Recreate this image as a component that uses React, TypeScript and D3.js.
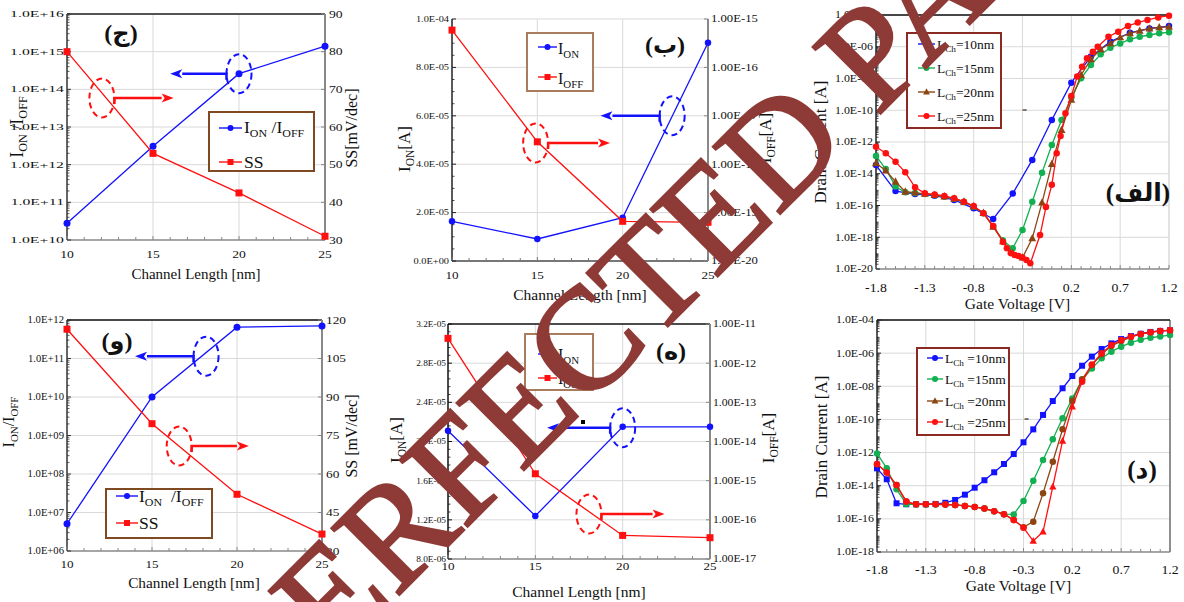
import React from 'react';
import * as d3 from 'd3';

const FONT = '"Liberation Serif", "Times New Roman", Times, serif';
const AR_FONT = '"Liberation Serif", "DejaVu Sans", serif';

const BLUE = '#1212FF';
const RED = '#FF1010';
const GREEN = '#12B050';
const BROWN = '#8B4513';
const GRID = '#D9D9D9';
const WM = '#8E3A36';

// ---------------- data ----------------
const channelLength = [10, 15, 20, 25];
const lengthTicks = [10, 15, 20, 25];
const lengthMinor = [11, 12, 13, 14, 16, 17, 18, 19, 21, 22, 23, 24];

// panel (ج)
const ratioJ = [2.8e10, 3.1e12, 2.6e14, 1.4e15];
const ssJ = [80, 53, 42.5, 31];
const ratioTicksJ = [1e10, 1e11, 1e12, 1e13, 1e14, 1e15, 1e16];
const ssTicksJ = [30, 40, 50, 60, 70, 80, 90];

// panel (ب)
const ionB = [1.64e-5, 0.91e-5, 1.79e-5, 9.02e-5];
const ioffB = [5.9e-16, 2.9e-18, 6.6e-20, 6.3e-20];
const ionTicksB = [0, 2e-5, 4e-5, 6e-5, 8e-5, 1e-4];
const ionMinorB = [5e-6, 1e-5, 1.5e-5, 2.5e-5, 3e-5, 3.5e-5, 4.5e-5, 5e-5, 5.5e-5, 6.5e-5, 7e-5, 7.5e-5, 8.5e-5, 9e-5, 9.5e-5];
const ioffTicksB = [1e-20, 1e-19, 1e-18, 1e-17, 1e-16, 1e-15];

// panel (و)
const ratioV = [5.1e6, 1.0e10, 6.5e11, 7.0e11];
const ssV = [116.4, 79.6, 52.1, 36.6];
const ratioTicksV = [1e6, 1e7, 1e8, 1e9, 1e10, 1e11, 1e12];
const ssTicksV = [30, 45, 60, 75, 90, 105, 120];

// panel (ه)
const ionH = [2.11e-5, 1.24e-5, 2.15e-5, 2.15e-5];
const ioffH = [4.3e-12, 1.5e-15, 4.0e-17, 3.5e-17];
const ionTicksH = [8e-6, 1.2e-5, 1.6e-5, 2.0e-5, 2.4e-5, 2.8e-5, 3.2e-5];
const ioffTicksH = [1e-17, 1e-16, 1e-15, 1e-14, 1e-13, 1e-12, 1e-11];

// transfer curves: gate voltage [V] and log10 of drain current [A]
const vgTicks = [-1.8, -1.3, -0.8, -0.3, 0.2, 0.7, 1.2];
const vgStep01 = [-1.8, -1.7, -1.6, -1.5, -1.4, -1.3, -1.2, -1.1, -1.0, -0.9, -0.8, -0.7, -0.6, -0.5, -0.4, -0.3, -0.2, -0.1, 0, 0.1, 0.2, 0.3, 0.4, 0.5, 0.6, 0.7, 0.8, 0.9, 1.0, 1.1, 1.2];
const vgStep02 = [-1.8, -1.6, -1.4, -1.2, -1.0, -0.8, -0.6, -0.4, -0.2, 0, 0.2, 0.4, 0.6, 0.8, 1.0, 1.2];
const vgRedAlef = [-1.8, -1.7, -1.6, -1.5, -1.4, -1.3, -1.2, -1.1, -1.0, -0.9, -0.8, -0.7, -0.6, -0.5, -0.46, -0.42, -0.38, -0.34, -0.3, -0.26, -0.22, -0.12, -0.06, 0, 0.05, 0.09, 0.14, 0.2, 0.26, 0.31, 0.36, 0.42, 0.47, 0.58, 0.68, 0.78, 0.88, 0.98, 1.09, 1.2];

// panel (الف)
const logIdAlef10 = [-13.45, -15.09, -15.28, -15.38, -15.65, -16.18, -16.85, -15.25, -13.13, -10.61, -8.26, -6.62, -5.68, -5.12, -4.85, -4.7];
const logIdAlef15 = [-12.88, -13.7, -14.81, -15.17, -15.22, -15.28, -15.35, -15.45, -15.58, -15.78, -16.08, -16.49, -17.3, -18.2, -18.7, -17.54, -15.76, -13.93, -12.19, -10.61, -9.19, -7.99, -7.15, -6.48, -6.06, -5.79, -5.53, -5.37, -5.26, -5.15, -5.09];
const logIdAlef20 = [-13.34, -13.8, -14.5, -15.13, -15.19, -15.27, -15.34, -15.43, -15.56, -15.76, -16.06, -16.47, -17.35, -18.25, -19.0, -19.28, -18.07, -15.82, -13.39, -11.24, -9.35, -7.78, -6.79, -6.16, -5.78, -5.4, -5.15, -4.99, -4.86, -4.78, -4.74];
const logIdAlef25 = [-12.3, -12.71, -13.24, -13.91, -14.85, -15.23, -15.3, -15.4, -15.55, -15.76, -16.03, -16.49, -17.29, -18.3, -18.7, -19.0, -19.12, -19.18, -19.27, -19.43, -19.64, -17.86, -16.1, -14.7, -12.71, -11.62, -10.19, -9.1, -7.88, -7.26, -6.73, -6.31, -6.0, -5.37, -5.05, -4.69, -4.48, -4.31, -4.15, -4.04];
const idTicksAlef = [1e-20, 1e-18, 1e-16, 1e-14, 1e-12, 1e-10, 1e-8, 1e-6, 1e-4];

// panel (د)
const logIdDal10 = [-12.95, -13.61, -15.06, -15.12, -15.12, -15.12, -15.1, -15.03, -14.86, -14.54, -14.12, -13.67, -13.19, -12.69, -12.09, -11.38, -10.6, -9.73, -8.89, -8.12, -7.38, -6.76, -6.21, -5.75, -5.41, -5.15, -4.97, -4.83, -4.72, -4.66, -4.62];
const logIdDal15 = [-12.05, -12.95, -14.22, -15.1, -15.14, -15.13, -15.13, -15.14, -15.16, -15.22, -15.28, -15.38, -15.54, -15.72, -15.73, -14.92, -13.7, -12.45, -11.2, -9.93, -8.73, -7.62, -6.92, -6.31, -5.91, -5.61, -5.37, -5.19, -5.07, -4.99, -4.91];
const logIdDal20 = [-12.7, -13.2, -13.96, -14.96, -15.12, -15.12, -15.12, -15.14, -15.16, -15.22, -15.28, -15.38, -15.54, -15.72, -16.07, -16.51, -16.17, -14.46, -12.55, -10.6, -8.89, -7.58, -6.72, -6.07, -5.57, -5.27, -5.03, -4.84, -4.74, -4.66, -4.62];
const logIdDal25 = [-12.69, -13.21, -13.96, -14.96, -15.12, -15.12, -15.12, -15.14, -15.16, -15.22, -15.28, -15.38, -15.54, -15.72, -16.07, -16.53, -17.34, -16.78, -14.06, -11.3, -9.23, -7.72, -6.68, -6.01, -5.51, -5.21, -5.0, -4.84, -4.74, -4.66, -4.62];
const dal25TriangleVolts = [-0.2, -0.1, 0, 0.1, 0.2];
const idTicksDal = [1e-18, 1e-16, 1e-14, 1e-12, 1e-10, 1e-8, 1e-6, 1e-4];

const lchLabels = ['10nm', '15nm', '20nm', '25nm'];

// ---------------- helpers ----------------
function sci(v: number, d: number) {
  if (v === 0) return (0).toFixed(d) + 'E+00';
  const e = Math.floor(Math.log10(Math.abs(v)) + 1e-9);
  const m = v / Math.pow(10, e);
  return m.toFixed(d) + 'E' + (e < 0 ? '-' : '+') + String(Math.abs(e)).padStart(2, '0');
}

function logMinor(lo: number, hi: number) {
  const out: number[] = [];
  for (let e = lo; e < hi; e++) for (let k = 2; k <= 9; k++) out.push(k * Math.pow(10, e));
  return out;
}

type Part = [string, boolean];
function Rich({ parts, size }: { parts: Part[]; size: number }) {
  const shift = size * 0.24;
  let cur = 0;
  return (
    <>
      {parts.map(([t, isSub], i) => {
        const target = isSub ? shift : 0;
        const dy = target - cur;
        cur = target;
        return (
          <tspan key={i} dy={dy} fontSize={isSub ? size * 0.68 : size}>
            {t}
          </tspan>
        );
      })}
    </>
  );
}

function Txt(p: any) {
  const { x, y, size, anchor = 'start', sx = 1, rotate = 0, weight = 'normal', fill = '#111', family = FONT, baseline, children } = p;
  return (
    <text
      transform={`translate(${x},${y}) rotate(${rotate}) scale(${sx},1)`}
      fontSize={size}
      textAnchor={anchor}
      fontFamily={family}
      fontWeight={weight}
      fill={fill}
      dominantBaseline={baseline}
      style={{ whiteSpace: 'pre' }}
    >
      {children}
    </text>
  );
}

function Marker({ type, x, y, color, size }: any) {
  if (type === 'circle') return <circle cx={x} cy={y} r={size / 2} fill={color} />;
  if (type === 'square') return <rect x={x - size / 2} y={y - size / 2} width={size} height={size} fill={color} />;
  const h = size;
  return <path d={`M${x},${y - h * 0.62}L${x + h * 0.56},${y + h * 0.42}L${x - h * 0.56},${y + h * 0.42}Z`} fill={color} />;
}

type Geo = { x0: number; x1: number; y0: number; y1: number };
type AxisSpec = { scale: any; ticks: number[]; fmt: (v: number) => string; size: number; sx: number; labelX: number; minor?: number[] };

function Axes(p: any) {
  const { g, x, xTicks, xFmt, xMinor, xLabelY, xSize, xSx, left, right, vGrid, hGrid, borders } = p as {
    g: Geo; x: any; xTicks: number[]; xFmt: (v: number) => string; xMinor: number[]; xLabelY: number; xSize: number; xSx: number;
    left: AxisSpec; right?: AxisSpec; vGrid: number[]; hGrid: number[]; borders: any;
  };
  const els: any[] = [];
  let k = 0;
  vGrid.forEach((v) => els.push(<line key={k++} x1={x(v)} x2={x(v)} y1={g.y0} y2={g.y1} stroke={GRID} strokeWidth={1} />));
  hGrid.forEach((v) => els.push(<line key={k++} x1={g.x0} x2={g.x1} y1={left.scale(v)} y2={left.scale(v)} stroke={GRID} strokeWidth={1} />));
  if (borders.top) els.push(<line key={k++} x1={g.x0} x2={g.x1} y1={g.y0} y2={g.y0} stroke={borders.top[0]} strokeWidth={borders.top[1]} />);
  if (borders.right) els.push(<line key={k++} x1={g.x1} x2={g.x1} y1={g.y0} y2={g.y1} stroke={borders.right[0]} strokeWidth={borders.right[1]} />);
  els.push(<line key={k++} x1={g.x0} x2={g.x1} y1={g.y1} y2={g.y1} stroke={borders.bottom[0]} strokeWidth={borders.bottom[1]} />);
  els.push(<line key={k++} x1={g.x0} x2={g.x0} y1={g.y0} y2={g.y1} stroke={borders.left[0]} strokeWidth={borders.left[1]} />);
  xTicks.forEach((v) => {
    els.push(<line key={k++} x1={x(v)} x2={x(v)} y1={g.y1} y2={g.y1 - 4} stroke={borders.bottom[0]} strokeWidth={1} />);
    els.push(
      <Txt key={k++} x={x(v)} y={xLabelY} size={xSize} sx={xSx} anchor="middle">
        {xFmt(v)}
      </Txt>
    );
  });
  xMinor.forEach((v) => els.push(<line key={k++} x1={x(v)} x2={x(v)} y1={g.y1} y2={g.y1 - 3} stroke={borders.bottom[0]} strokeWidth={1} />));
  left.ticks.forEach((v) => {
    const y = left.scale(v);
    els.push(<line key={k++} x1={g.x0} x2={g.x0 + 4} y1={y} y2={y} stroke={borders.left[0]} strokeWidth={1} />);
    els.push(
      <Txt key={k++} x={left.labelX} y={y + left.size * 0.34} size={left.size} sx={left.sx} anchor="end">
        {left.fmt(v)}
      </Txt>
    );
  });
  (left.minor || []).forEach((v) => {
    const y = left.scale(v);
    els.push(<line key={k++} x1={g.x0} x2={g.x0 + 2.5} y1={y} y2={y} stroke={borders.left[0]} strokeWidth={0.8} />);
  });
  if (right) {
    right.ticks.forEach((v) => {
      const y = right.scale(v);
      els.push(<line key={k++} x1={g.x1} x2={g.x1 - 4} y1={y} y2={y} stroke={borders.right[0]} strokeWidth={1} />);
      els.push(
        <Txt key={k++} x={right.labelX} y={y + right.size * 0.34} size={right.size} sx={right.sx} anchor="start">
          {right.fmt(v)}
        </Txt>
      );
    });
    (right.minor || []).forEach((v) => {
      const y = right.scale(v);
      els.push(<line key={k++} x1={g.x1} x2={g.x1 - 2.5} y1={y} y2={y} stroke={borders.right[0]} strokeWidth={0.8} />);
    });
  }
  return <g>{els}</g>;
}

function Series({ xs, ys, x, y, color, marker, size, width = 1.3, markerOf }: any) {
  const pts: [number, number][] = xs.map((v: number, i: number) => [x(v), y(ys[i])]);
  const line = d3.line();
  return (
    <g>
      <path d={line(pts) || ''} fill="none" stroke={color} strokeWidth={width} />
      {pts.map((pt, i) => (
        <Marker key={i} type={markerOf ? markerOf(xs[i]) : marker} x={pt[0]} y={pt[1]} color={color} size={size} />
      ))}
    </g>
  );
}

function Legend({ box, border, entries, lineX0, lineX1, textX, size, sx }: any) {
  return (
    <g>
      <rect x={box[0]} y={box[1]} width={box[2] - box[0]} height={box[3] - box[1]} fill="#fff" stroke={border} strokeWidth={2} />
      {entries.map((e: any, i: number) => (
        <g key={i}>
          <line x1={lineX0} x2={lineX1} y1={e.y} y2={e.y} stroke={e.color} strokeWidth={1.4} />
          <Marker type={e.marker} x={(lineX0 + lineX1) / 2} y={e.y} color={e.color} size={e.msize || 6} />
          <Txt x={textX} y={e.y + (e.dy ?? size * 0.35)} size={size} sx={sx}>
            <Rich parts={e.parts} size={size} />
          </Txt>
        </g>
      ))}
    </g>
  );
}

function Annot({ cx, cy, toX, color }: any) {
  const rx = 12.5, ry = 19.5;
  const dir = toX < cx ? -1 : 1;
  const sx = cx + dir * rx;
  const tip = toX;
  const back = tip - dir * 12;
  return (
    <g>
      <ellipse cx={cx} cy={cy} rx={rx} ry={ry} fill="none" stroke={color} strokeWidth={2} strokeDasharray="6,4" />
      <path d={`M${sx},${cy + 6}L${sx},${cy}L${back},${cy}`} fill="none" stroke={color} strokeWidth={2.5} />
      <path d={`M${tip},${cy}L${back},${cy - 4.5}L${back + dir * 3},${cy}L${back},${cy + 4.5}Z`} fill={color} />
    </g>
  );
}

function ArabicLabel({ x, y, text, size = 24 }: any) {
  return (
    <text x={x} y={y} fontSize={size} fontFamily={AR_FONT} fontWeight="bold" textAnchor="middle" dominantBaseline="central" fill="#111">
      {text}
    </text>
  );
}

// ---------------- panels ----------------
function PanelJim() {
  const g = { x0: 67, x1: 325, y0: 14, y1: 240 };
  const x = d3.scaleLinear().domain([10, 25]).range([g.x0, g.x1]);
  const yL = d3.scaleLog().domain([1e10, 1e16]).range([g.y1, g.y0]);
  const yR = d3.scaleLinear().domain([30, 90]).range([g.y1, g.y0]);
  return (
    <g>
      <Axes
        g={g} x={x} xTicks={lengthTicks} xFmt={(v: number) => String(v)} xMinor={lengthMinor} xLabelY={258} xSize={10.5} xSx={1.3}
        left={{ scale: yL, ticks: ratioTicksJ, fmt: (v: number) => sci(v, 1), size: 9, sx: 1.75, labelX: 64, minor: logMinor(10, 16) }}
        right={{ scale: yR, ticks: ssTicksJ, fmt: (v: number) => String(v), size: 10.5, sx: 1.3, labelX: 329 }}
        vGrid={[15, 20]} hGrid={ratioTicksJ.slice(1)}
        borders={{ left: ['#333', 1.5], bottom: ['#888', 1.5], right: ['#888', 2], top: ['#222', 1.5] }}
      />
      <Series xs={channelLength} ys={ratioJ} x={x} y={yL} color={BLUE} marker="circle" size={7} />
      <Series xs={channelLength} ys={ssJ} x={x} y={yR} color={RED} marker="square" size={7} />
      <Annot cx={x(20)} cy={yL(2.6e14)} toX={x(16)} color={BLUE} />
      <Annot cx={x(12.03)} cy={yR(67.7)} toX={x(16.2)} color={RED} />
      <Legend box={[209, 112, 314, 171]} border="#7F4A22" lineX0={219} lineX1={242} textX={244} size={16} sx={1.1}
        entries={[
          { y: 128, color: BLUE, marker: 'circle', parts: [['I', false], ['ON', true], [' /I', false], ['OFF', true]], dy: 5 },
          { y: 162, color: RED, marker: 'square', parts: [['SS', false]], dy: 6 },
        ]} />
      <ArabicLabel x={121} y={33} text="(ج)" size={24} />
      <Txt x={196} y={279} size={15} anchor="middle">Channel Length [nm]</Txt>
      <Txt x={23} y={127} size={18} anchor="middle" rotate={-90}>
        <Rich parts={[['I', false], ['ON', true], [' /I', false], ['OFF', true]]} size={18} />
      </Txt>
      <Txt x={357} y={128} size={16} anchor="middle" rotate={-90}>SS[mV/dec]</Txt>
    </g>
  );
}

function PanelBa() {
  const g = { x0: 452, x1: 708, y0: 19, y1: 261 };
  const x = d3.scaleLinear().domain([10, 25]).range([g.x0, g.x1]);
  const yL = d3.scaleLinear().domain([0, 1e-4]).range([g.y1, g.y0]);
  const yR = d3.scaleLog().domain([1e-20, 1e-15]).range([g.y1, g.y0]);
  return (
    <g>
      <Axes
        g={g} x={x} xTicks={lengthTicks} xFmt={(v: number) => String(v)} xMinor={lengthMinor} xLabelY={279} xSize={10.5} xSx={1.25}
        left={{ scale: yL, ticks: ionTicksB, fmt: (v: number) => sci(v, 1), size: 8.5, sx: 1.22, labelX: 449, minor: ionMinorB }}
        right={{ scale: yR, ticks: ioffTicksB, fmt: (v: number) => sci(v, 2), size: 10, sx: 1.27, labelX: 711 }}
        vGrid={[15, 20]} hGrid={ionTicksB.slice(1)}
        borders={{ left: ['#222', 1.5], bottom: ['#777', 2], right: ['#888', 2], top: null }}
      />
      <Series xs={channelLength} ys={ionB} x={x} y={yL} color={BLUE} marker="circle" size={6.5} />
      <Series xs={channelLength} ys={ioffB} x={x} y={yR} color={RED} marker="square" size={7} />
      <Annot cx={x(22.9)} cy={yL(6.0e-5)} toX={x(18.7)} color={BLUE} />
      <Annot cx={x(14.9)} cy={yR(2.75e-18)} toX={x(19.26)} color={RED} />
      <Legend box={[527, 33, 593, 91]} border="#A87C5C" lineX0={538} lineX1={557} textX={558} size={16} sx={1}
        entries={[
          { y: 47, color: BLUE, marker: 'circle', parts: [['I', false], ['ON', true]], dy: 7 },
          { y: 77, color: RED, marker: 'square', parts: [['I', false], ['OFF', true]], dy: 7 },
        ]} />
      <ArabicLabel x={665} y={45} text="(ب)" size={24} />
      <Txt x={580} y={300} size={15.5} anchor="middle">Channel Length [nm]</Txt>
      <Txt x={410} y={149} size={17} anchor="middle" rotate={-90}>
        <Rich parts={[['I', false], ['ON', true], ['[A]', false]]} size={17} />
      </Txt>
      <Txt x={771} y={138} size={17} anchor="middle" rotate={-90}>
        <Rich parts={[['I', false], ['OFF', true], ['[A]', false]]} size={17} />
      </Txt>
    </g>
  );
}

function TransferPanel({ g, domainLo, ticks, label, labelPos, legendBox, legendYs, legendTextX, legendLineX, series, spaceLabel, eqPos, xTitleY, xTickY, yTitleX, yTitleY, rightBorder }: any) {
  const x = d3.scaleLinear().domain([-1.8, 1.2]).range([g.x0, g.x1]);
  const y = d3.scaleLog().domain([domainLo, 1e-4]).range([g.y1, g.y0]);
  const loE = Math.round(Math.log10(domainLo));
  const minorX: number[] = vgStep01.filter((v) => !vgTicks.some((t) => Math.abs(t - v) < 1e-9));
  const colors = [BLUE, GREEN, BROWN, RED];
  return (
    <g>
      <Axes
        g={g} x={x} xTicks={vgTicks} xFmt={(v: number) => v.toFixed(1)} xMinor={minorX} xLabelY={xTickY} xSize={12} xSx={1.15}
        left={{ scale: y, ticks: ticks, fmt: (v: number) => sci(v, 1), size: 10, sx: 1.19, labelX: g.x0 - 3, minor: logMinor(loE, -4) }}
        vGrid={vgTicks.slice(1)} hGrid={ticks.slice(1)}
        borders={{ left: ['#222', 1.5], bottom: ['#888', 1.5], right: rightBorder, top: ['#111', 1.5] }}
      />
      {series.map((s: any, i: number) => (
        <Series key={i} xs={s.xs} ys={s.logs.map((e: number) => Math.pow(10, e))} x={x} y={y} color={s.color} marker={s.marker} markerOf={s.markerOf} size={s.size || 6} width={1.3} />
      ))}
      <Legend box={legendBox} border="#8B2A22" lineX0={legendLineX[0]} lineX1={legendLineX[1]} textX={legendTextX} size={13.5} sx={1}
        entries={lchLabels.map((l, i) => ({
          y: legendYs[i], color: colors[i], marker: i === 2 ? 'triangle' : 'circle', msize: 6,
          parts: [['L', false], ['Ch', true], [(spaceLabel ? ' =' : '=') + l, false]], dy: 5,
        }))} />
      <Txt x={eqPos[0]} y={eqPos[1]} size={9}>=</Txt>
      <ArabicLabel x={labelPos[0]} y={labelPos[1]} text={label} size={25} />
      <Txt x={(g.x0 + g.x1) / 2 - 5} y={xTitleY} size={15.5} anchor="middle">Gate Voltage [V]</Txt>
      <Txt x={yTitleX} y={yTitleY} size={17} anchor="middle" rotate={-90}>Drain Current [A]</Txt>
    </g>
  );
}

function PanelVav() {
  const g = { x0: 67, x1: 322, y0: 320, y1: 551 };
  const x = d3.scaleLinear().domain([10, 25]).range([g.x0, g.x1]);
  const yL = d3.scaleLog().domain([1e6, 1e12]).range([g.y1, g.y0]);
  const yR = d3.scaleLinear().domain([30, 120]).range([g.y1, g.y0]);
  return (
    <g>
      <Axes
        g={g} x={x} xTicks={lengthTicks} xFmt={(v: number) => String(v)} xMinor={lengthMinor} xLabelY={568} xSize={10.5} xSx={1.25}
        left={{ scale: yL, ticks: ratioTicksV, fmt: (v: number) => sci(v, 1), size: 9.5, sx: 1.12, labelX: 64, minor: logMinor(6, 12) }}
        right={{ scale: yR, ticks: ssTicksV, fmt: (v: number) => String(v), size: 10.5, sx: 1.27, labelX: 326 }}
        vGrid={[15, 20]} hGrid={ratioTicksV.slice(1)}
        borders={{ left: ['#333', 1.5], bottom: ['#888', 1.5], right: ['#888', 2], top: ['#111', 1.5] }}
      />
      <Series xs={channelLength} ys={ratioV} x={x} y={yL} color={BLUE} marker="circle" size={7} />
      <Series xs={channelLength} ys={ssV} x={x} y={yR} color={RED} marker="square" size={7} />
      <Annot cx={x(18.18)} cy={yL(1.15e11)} toX={x(14.0)} color={BLUE} />
      <Annot cx={x(16.6)} cy={yR(70.9)} toX={x(20.7)} color={RED} />
      <Legend box={[106, 489, 212, 538]} border="#7F4A22" lineX0={116} lineX1={138} textX={139} size={16} sx={1.1}
        entries={[
          { y: 496, color: BLUE, marker: 'circle', parts: [['I', false], ['ON', true], ['  /I', false], ['OFF', true]], dy: 6 },
          { y: 523, color: RED, marker: 'square', parts: [['SS', false]], dy: 6 },
        ]} />
      <ArabicLabel x={117} y={341} text="(و)" size={24} />
      <Txt x={194} y={588} size={15.3} anchor="middle">Channel Length [nm]</Txt>
      <Txt x={14} y={422} size={16} anchor="middle" rotate={-90}>
        <Rich parts={[['I', false], ['ON', true], ['/I', false], ['OFF', true]]} size={16} />
      </Txt>
      <Txt x={357} y={436} size={16} anchor="middle" rotate={-90}>SS [mV/dec]</Txt>
    </g>
  );
}

function PanelHe() {
  const g = { x0: 448, x1: 710, y0: 324, y1: 559 };
  const x = d3.scaleLinear().domain([10, 25]).range([g.x0, g.x1]);
  const yL = d3.scaleLinear().domain([8e-6, 3.2e-5]).range([g.y1, g.y0]);
  const yR = d3.scaleLog().domain([1e-17, 1e-11]).range([g.y1, g.y0]);
  const minorL: number[] = [];
  ionTicksH.slice(0, -1).forEach((t) => { for (let i = 1; i < 5; i++) minorL.push(t + i * 8e-7); });
  return (
    <g>
      <Axes
        g={g} x={x} xTicks={lengthTicks} xFmt={(v: number) => String(v)} xMinor={lengthMinor} xLabelY={570} xSize={10.5} xSx={1.25}
        left={{ scale: yL, ticks: ionTicksH, fmt: (v: number) => sci(v, 1), size: 8.5, sx: 1.1, labelX: 446, minor: minorL }}
        right={{ scale: yR, ticks: ioffTicksH, fmt: (v: number) => sci(v, 2), size: 10, sx: 1.17, labelX: 713 }}
        vGrid={[15, 20]} hGrid={ionTicksH.slice(1, -1)}
        borders={{ left: ['#111', 1.5], bottom: ['#888', 1.5], right: ['#888', 2], top: ['#111', 1.5] }}
      />
      <Series xs={channelLength} ys={ionH} x={x} y={yL} color={BLUE} marker="circle" size={6.5} />
      <Series xs={channelLength} ys={ioffH} x={x} y={yR} color={RED} marker="square" size={7} />
      <Annot cx={x(20)} cy={yL(2.14e-5)} toX={x(15.67)} color={BLUE} />
      <Annot cx={x(18.07)} cy={yR(1.4e-16)} toX={x(22.4)} color={RED} />
      <rect x={581} y={420} width={4} height={4} fill="#000" />
      <Legend box={[525, 334, 593, 390]} border="#A87C5C" lineX0={538} lineX1={557} textX={558} size={16} sx={1}
        entries={[
          { y: 354, color: BLUE, marker: 'circle', parts: [['I', false], ['ON', true]], dy: 6 },
          { y: 378, color: RED, marker: 'square', parts: [['I', false], ['OFF', true]], dy: 6 },
        ]} />
      <ArabicLabel x={671} y={351} text="(ه)" size={24} />
      <Txt x={579} y={597} size={15.5} anchor="middle">Channel Length [nm]</Txt>
      <Txt x={402} y={440} size={17} anchor="middle" rotate={-90}>
        <Rich parts={[['I', false], ['ON', true], ['[A]', false]]} size={17} />
      </Txt>
      <Txt x={774} y={438} size={17} anchor="middle" rotate={-90}>
        <Rich parts={[['I', false], ['OFF', true], ['[A]', false]]} size={17} />
      </Txt>
    </g>
  );
}

export default function App() {
  const alefSeries = [
    { xs: vgStep02, logs: logIdAlef10, color: BLUE, marker: 'circle', size: 6.5 },
    { xs: vgStep01, logs: logIdAlef15, color: GREEN, marker: 'circle', size: 6.5 },
    { xs: vgStep01, logs: logIdAlef20, color: BROWN, marker: 'triangle', size: 7 },
    { xs: vgRedAlef, logs: logIdAlef25, color: RED, marker: 'circle', size: 6.5 },
  ];
  const dalSeries = [
    { xs: vgStep01, logs: logIdDal10, color: BLUE, marker: 'square', size: 6 },
    { xs: vgStep01, logs: logIdDal15, color: GREEN, marker: 'circle', size: 6.5 },
    { xs: vgStep01, logs: logIdDal20, color: BROWN, marker: 'circle', size: 6.5 },
    {
      xs: vgStep01, logs: logIdDal25, color: RED, size: 6.5,
      markerOf: (v: number) => (dal25TriangleVolts.some((t) => Math.abs(t - v) < 1e-9) ? 'triangle' : 'circle'),
    },
  ];
  return (
    <svg width={1184} height={602} style={{ position: 'absolute', left: 0, top: 0 }} xmlns="http://www.w3.org/2000/svg">
      <rect x={0} y={0} width={1184} height={602} fill="#fff" />
      <PanelJim />
      <PanelBa />
      <TransferPanel
        g={{ x0: 876, x1: 1169, y0: 15, y1: 269 }} domainLo={1e-20} ticks={idTicksAlef} label="(الف)" labelPos={[1138, 192]}
        legendBox={[907, 33, 1001, 128]} legendYs={[44, 68, 92, 116]} legendTextX={937} legendLineX={[918, 935]}
        series={alefSeries} spaceLabel={false} eqPos={[1022, 113]} xTitleY={309} xTickY={292} yTitleX={826} yTitleY={142}
        rightBorder={[GRID, 1]}
      />
      <PanelVav />
      <PanelHe />
      <TransferPanel
        g={{ x0: 877, x1: 1170, y0: 320, y1: 552 }} domainLo={1e-18} ticks={idTicksDal} label="(د)" labelPos={[1142, 469]}
        legendBox={[917, 348, 1009, 435]} legendYs={[358, 379, 401, 422]} legendTextX={945} legendLineX={[927, 943]}
        series={dalSeries} spaceLabel={true} eqPos={[1024, 422]} xTitleY={591} xTickY={574} yTitleX={827} yTitleY={437}
        rightBorder={['#333', 1]}
      />
      <text
        transform="translate(276,718) rotate(-45)"
        fontSize={145}
        fontFamily={FONT}
        fill={WM}
        stroke={WM}
        strokeWidth={2.5}
        style={{ whiteSpace: 'pre' }}
      >
        PERFECTED PAPER
      </text>
    </svg>
  );
}
